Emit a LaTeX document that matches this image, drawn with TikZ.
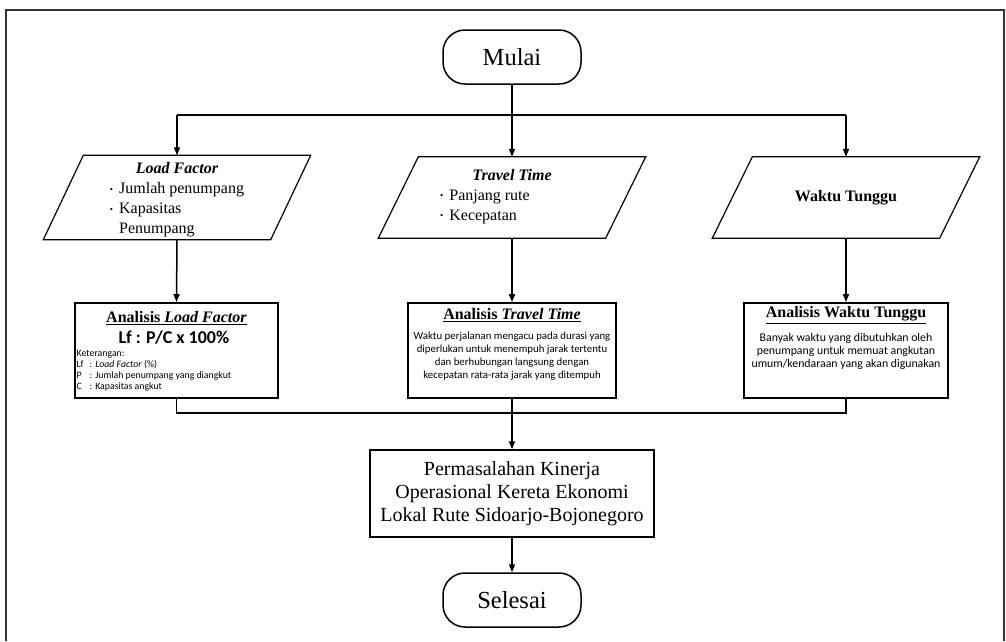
\documentclass[tikz,border=0pt]{standalone}
\usepackage{fontspec}
\setmainfont{Liberation Serif}
\newfontfamily\calib{Carlito}
\usetikzlibrary{arrows.meta,calc}
\newcommand\bul{{\fontsize{9}{9}\selectfont\raisebox{1.5pt}{\textbullet}}}
\tikzset{
  conn/.style={line width=1.5pt},
  arr/.style={conn,-{Triangle[length=8pt,width=6pt]}},
  term/.style={draw,line width=1.5pt,rounded corners=22pt,minimum width=138pt,minimum height=54pt,inner sep=0pt,font=\fontsize{24.5}{28}\selectfont},
  para/.style={minimum width=227pt,minimum height=81pt,inner sep=0pt,align=center,font=\fontsize{16}{20}\selectfont},
  parashape/.style={line width=1.2pt},
  abox/.style={draw,line width=2pt,inner sep=0pt,minimum height=95pt},
  head/.style={inner sep=0pt,font=\fontsize{16}{19}\selectfont\bfseries},
  body/.style={inner sep=0pt,align=center,font=\calib\fontsize{11.8}{13.2}\selectfont},
  frame/.style={line width=1.5pt,black!80},
}
\begin{document}
\begin{tikzpicture}[x=1pt,y=-1pt]
\useasboundingbox (0,0) rectangle (1006,641);
\draw[frame] (6,641) -- (6,10) -- (1004,10) -- (1004,641);

\node[term] (mulai) at (512,57) {Mulai};

\coordinate (b1) at (177,115);
\coordinate (b2) at (512,115);
\coordinate (b3) at (846,115);

\node[para] (p1) at (177,197.5) {\rule{0pt}{18pt}{\bfseries\itshape Load Factor}\\
  \begin{tabular}[t]{@{}l@{\hspace{6pt}}l@{}}\bul & Jumlah penumpang\\ \bul & Kapasitas\\ & Penumpang\end{tabular}};
\node[para] (p2) at (512,197.5) {{\bfseries\itshape Travel Time}\\
  \begin{tabular}[t]{@{}l@{\hspace{6pt}}l@{\hspace{54pt}}}\bul & Panjang rute\\ \bul & Kecepatan\end{tabular}};
\node[para] (p3) at (846,197.5) {\bfseries Waktu Tunggu};

\foreach \p in {p1,p2,p3}{
  \draw[parashape] ($(\p.north west)+(20,0)$) -- ($(\p.north east)+(20,0)$)
    -- ($(\p.south east)+(-20,0)$) -- ($(\p.south west)+(-20,0)$) -- cycle;
}

\draw[conn] (mulai.south) -- (b2);
\draw[conn] (b1) -- (b3);
\draw[arr] (b1) -- (p1.north);
\draw[arr] (b2) -- (p2.north);
\draw[arr] (b3) -- (p3.north);

\node[abox,minimum width=203pt] (a1) at (176.5,350.5) {};
\node[abox,minimum width=208pt] (a2) at (512,350.5) {};
\node[abox,minimum width=204pt] (a3) at (846,350.5) {};

\draw[arr] (p1.south) -- (a1.north);
\draw[arr] (p2.south) -- (a2.north);
\draw[arr] (p3.south) -- (a3.north);

\node[head] (h1) at (176.5,318) {\underline{Analisis \textit{Load Factor}}};
\node[inner sep=0pt,font=\calib\fontsize{18}{20}\selectfont\bfseries] (f1) at (174,338) {Lf : P/C x 100\%};
\node[inner sep=0pt,anchor=north west,align=left,font=\calib\fontsize{9.8}{11}\selectfont] (k1) at (76.5,350)
  {Keterangan:\\
   \makebox[13pt][l]{Lf}: \textit{Load Factor} (\%)\\
   \makebox[13pt][l]{P}: Jumlah penumpang yang diangkut\\
   \makebox[13pt][l]{C}: Kapasitas angkut};

\node[head] (h2) at (512,315) {\underline{Analisis \textit{Travel Time}}};
\node[body,anchor=north,font=\calib\fontsize{10.8}{13}\selectfont] (t2) at (512,332) {Waktu perjalanan mengacu pada durasi yang\\
  diperlukan untuk menempuh jarak tertentu\\
  dan berhubungan langsung dengan\\
  kecepatan rata-rata jarak yang ditempuh};

\node[head] (h3) at (846,315) {\underline{Analisis Waktu Tunggu}};
\node[body,anchor=north] (t3) at (846,333) {Banyak waktu yang dibutuhkan oleh\\
  penumpang untuk memuat angkutan\\
  umum/kendaraan yang akan digunakan};

\coordinate (c1) at (176.5,413);
\coordinate (c3) at (846,413);
\draw[conn] (a1.south) -- (c1) -- (c3) -- (a3.south);

\node[draw,line width=1.5pt,minimum width=284pt,minimum height=87pt,align=center,inner sep=0pt,
  font=\fontsize{20}{23}\selectfont] (fin) at (512,493.5)
  {Permasalahan Kinerja\\ Operasional Kereta Ekonomi\\ Lokal Rute Sidoarjo-Bojonegoro};
\draw[arr] (a2.south) -- (fin.north);

\node[term] (sel) at (512,600) {Selesai};
\draw[arr] (fin.south) -- (sel.north);
\end{tikzpicture}
\end{document}
